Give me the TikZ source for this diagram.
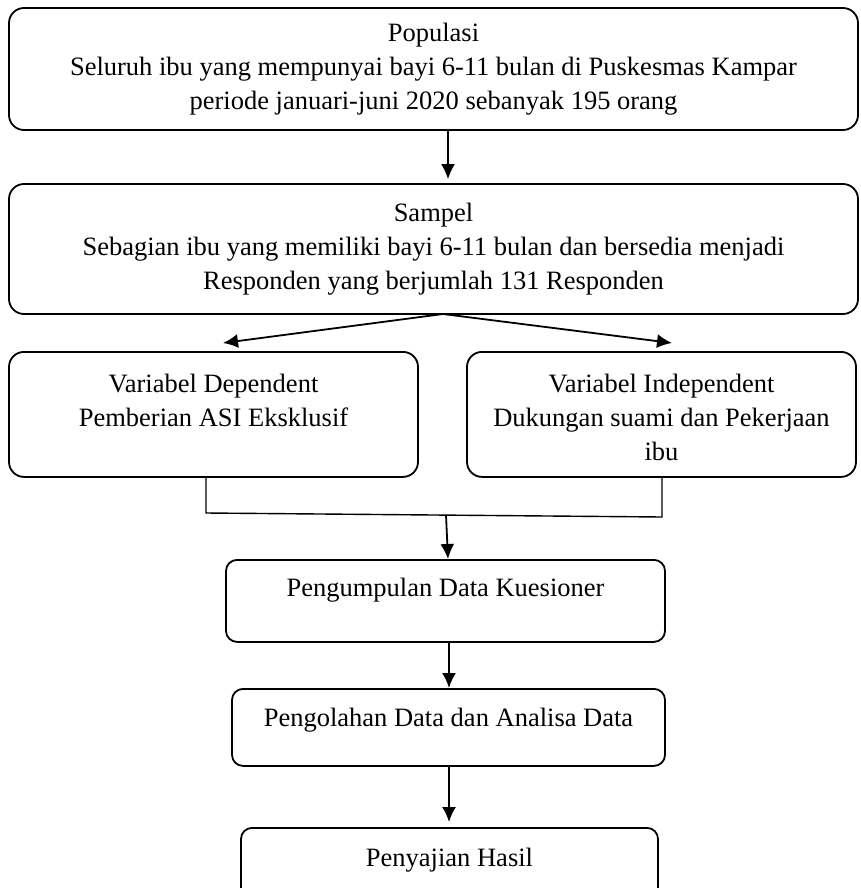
\documentclass[tikz,border=0pt]{standalone}
\usepackage{fontspec}
\setmainfont{Liberation Serif}
\usetikzlibrary{arrows.meta}

\tikzset{
    kotak/.style={draw, line width=1.8pt, rounded corners=15pt, align=center, inner sep=0pt},
    kecil/.style={kotak, rounded corners=11pt},
    panah/.style={line width=1.8pt, -{Latex[length=15pt, width=14pt]}},
    garis/.style={line width=1.4pt}
}

\begin{document}
\begin{tikzpicture}[x=1pt, y=-1pt, font=\fontsize{26.5}{34}\selectfont]
    \useasboundingbox (0,0) rectangle (861,888);

    % Kotak.
    \node[kotak, minimum width=849pt, minimum height=122pt] (pop) at (433.5,69)
        {Populasi\\Seluruh ibu yang mempunyai bayi 6-11 bulan di Puskesmas Kampar\\periode januari-juni 2020 sebanyak 195 orang};
    \node[kotak, minimum width=849pt, minimum height=130pt] (sam) at (433.5,249)
        {Sampel\\Sebagian ibu yang memiliki bayi 6-11 bulan dan bersedia menjadi\\Responden yang berjumlah 131 Responden};
    \node[kotak, minimum width=409pt, text height=75pt, text depth=50pt, anchor=north] (dep) at (213.5,351)
        {Variabel Dependent\\Pemberian ASI Eksklusif};
    \node[kotak, minimum width=389pt, text height=109pt, text depth=16pt, anchor=north] (ind) at (661.5,351)
        {Variabel Independent\\Dukungan suami dan Pekerjaan\\ibu};
    \node[kecil, minimum width=439pt, text height=37pt, text depth=45pt, anchor=north] (kum) at (445.5,559)
        {Pengumpulan Data Kuesioner};
    \node[kecil, minimum width=433pt, text height=38pt, text depth=39pt, anchor=north] (olah) at (448.5,688)
        {Pengolahan Data dan Analisa Data};
    \node[kecil, minimum width=417pt, text height=39pt, text depth=32pt, anchor=north] (saji) at (449.5,827)
        {Penyajian Hasil};

    % Titik sambungan.
    \coordinate (jl) at (206,513);
    \coordinate (jr) at (662,517);
    \coordinate (jm) at (446,515);
    \coordinate (ja) at (443,314);

    % Panah.
    \draw[panah] ([xshift=14.5pt]pop.south) -- ([xshift=14.5pt,yshift=4pt]sam.north);
    \draw[panah] (ja) -- ([xshift=9.5pt,yshift=8pt]dep.north);
    \draw[panah] (ja) -- ([xshift=10.5pt,yshift=8pt]ind.north);
    \draw[garis] ([xshift=-7.5pt]dep.south) -- (jl) -- (jr) -- ([xshift=0.5pt]ind.south);
    \draw[panah] (jm) -- ([xshift=2.5pt]kum.north);
    \draw[panah] ([xshift=3.5pt]kum.south) -- ([xshift=0.5pt]olah.north);
    \draw[panah] ([xshift=0.5pt]olah.south) -- ([xshift=-0.5pt,yshift=5pt]saji.north);
\end{tikzpicture}
\end{document}
